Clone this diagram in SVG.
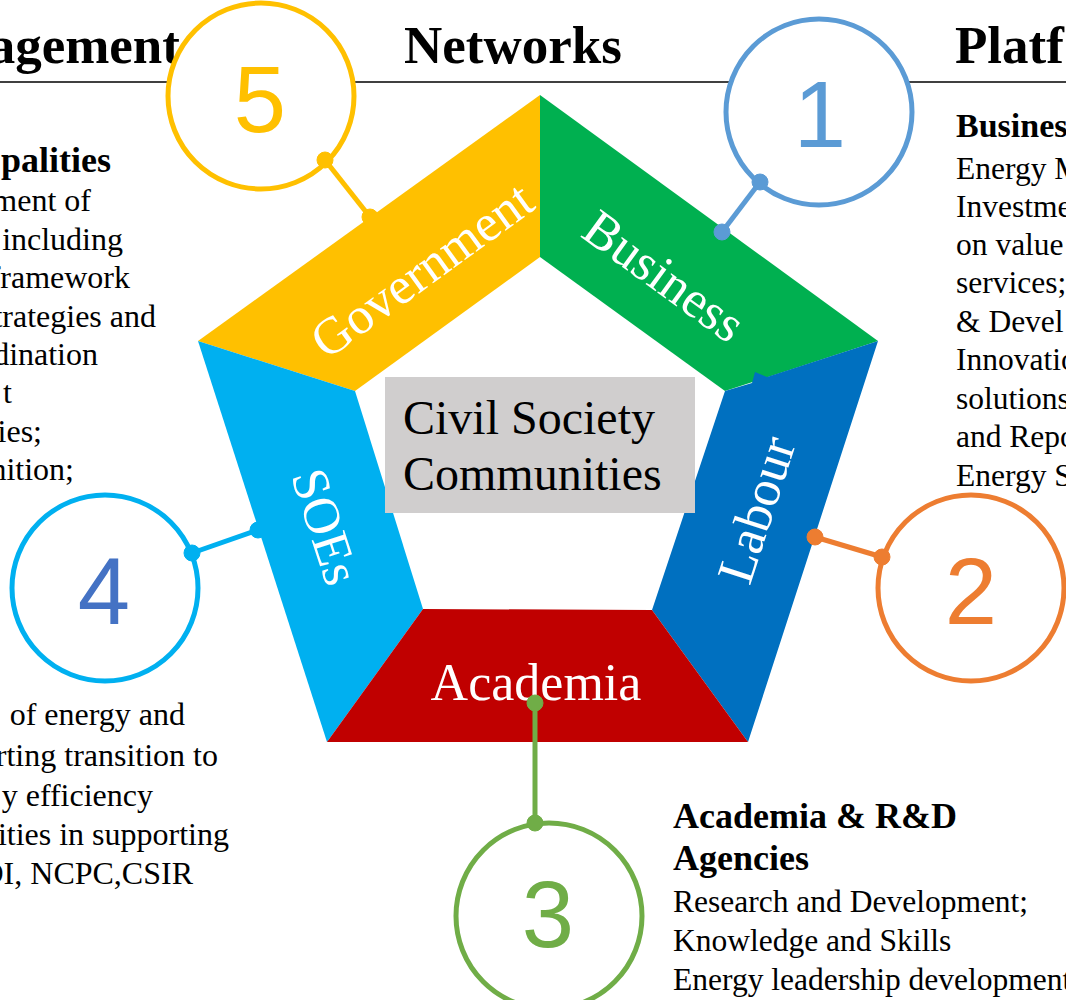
<svg xmlns="http://www.w3.org/2000/svg" width="1066" height="1000" viewBox="0 0 1066 1000">
<style>
.hd{font-family:"Liberation Serif","Times New Roman",serif;font-weight:bold;font-size:53px;fill:#000}
.bt{font-family:"Liberation Serif","Times New Roman",serif;font-weight:bold;font-size:34px;fill:#000}
.btl{font-family:"Liberation Serif","Times New Roman",serif;font-weight:bold;font-size:36px;fill:#000}
.bt2{font-family:"Liberation Serif","Times New Roman",serif;font-weight:bold;font-size:36px;fill:#000}
.tx{font-family:"Liberation Serif","Times New Roman",serif;font-size:32px;fill:#000}
.tx2{font-family:"Liberation Serif","Times New Roman",serif;font-size:31.5px;fill:#000}
.tx3{font-family:"Liberation Serif","Times New Roman",serif;font-size:32px;fill:#000}
.lbl{font-family:"Liberation Serif","Times New Roman",serif;font-size:52px;fill:#fff;text-anchor:middle}
.ctr{font-family:"Liberation Serif","Times New Roman",serif;font-size:48px;fill:#000}
.ring{fill:#fff;stroke-width:5}
.num{font-family:"Liberation Sans",Arial,sans-serif;font-size:94px;text-anchor:middle}
.cn{stroke-width:5;fill:none}
</style>
<rect width="1066" height="1000" fill="#fff"/>

<g id="header">
<line x1="0" y1="82" x2="1066" y2="82" stroke="#000" stroke-width="1.5"/>
<text class="hd" x="180" y="63" text-anchor="end">agement</text>
<text class="hd" x="513" y="63" text-anchor="middle">Networks</text>
<text class="hd" x="955" y="63">Platf</text>
</g>

<g id="text-left-top" text-anchor="end">
<text class="btl" x="111" y="172">palities</text>
<text class="tx" x="91" y="211">ment of</text>
<text class="tx" x="123" y="250">including</text>
<text class="tx" x="130" y="288">framework</text>
<text class="tx" x="156" y="327">trategies and</text>
<text class="tx" x="98" y="365">dination</text>
<text class="tx" x="12" y="403">t</text>
<text class="tx" x="42" y="442">ies;</text>
<text class="tx" x="74" y="480">nition;</text>
</g>

<g id="text-right-top">
<text class="bt" x="956" y="137">Busines</text>
<text class="tx2" x="956" y="179">Energy M</text>
<text class="tx2" x="956" y="217">Investme</text>
<text class="tx2" x="956" y="255">on value</text>
<text class="tx2" x="956" y="293">services;</text>
<text class="tx2" x="956" y="332">&amp; Devel</text>
<text class="tx2" x="956" y="370">Innovatio</text>
<text class="tx2" x="956" y="409">solutions</text>
<text class="tx2" x="956" y="447">and Repo</text>
<text class="tx2" x="956" y="486">Energy S</text>
</g>

<g id="text-left-bottom" text-anchor="end">
<text class="tx3" x="185" y="725">of energy and</text>
<text class="tx3" x="218" y="766">rting transition to</text>
<text class="tx3" x="153" y="806">y efficiency</text>
<text class="tx3" x="229" y="845">ities in supporting</text>
<text class="tx3" x="193" y="884">DI, NCPC,CSIR</text>
</g>

<g id="text-right-bottom">
<text class="bt2" x="673" y="828">Academia &amp; R&amp;D</text>
<text class="bt2" x="673" y="870">Agencies</text>
<text class="tx2" x="673" y="912">Research and Development;</text>
<text class="tx2" x="673" y="951">Knowledge and Skills</text>
<text class="tx2" x="673" y="990">Energy leadership development</text>
</g>

<g id="circle-5"><circle class="ring" cx="261" cy="96" r="93" stroke="#FFC000"/><text class="num" x="260" y="132" fill="#FFC000">5</text></g>
<g id="circle-1"><circle class="ring" cx="819" cy="112" r="93" stroke="#5B9BD5"/><text class="num" x="820" y="147" fill="#5B9BD5">1</text></g>
<g id="circle-2"><circle class="ring" cx="971" cy="588" r="93" stroke="#ED7D31"/><text class="num" x="971" y="624" fill="#ED7D31">2</text></g>
<g id="circle-3"><circle class="ring" cx="549" cy="916" r="93" stroke="#70AD47"/><text class="num" x="548" y="947" fill="#70AD47">3</text></g>
<g id="circle-4"><circle class="ring" cx="105" cy="588" r="93" stroke="#00B0F0"/><text class="num" x="104" y="624" fill="#4472C4">4</text></g>

<g id="connectors-under">
<g stroke="#FFC000" fill="#FFC000"><line class="cn" x1="325" y1="160" x2="370" y2="217"/><circle cx="325" cy="160" r="8"/><circle cx="370" cy="217" r="8"/></g>
<g stroke="#00B0F0" fill="#00B0F0"><line class="cn" x1="192" y1="553" x2="258" y2="530"/><circle cx="192" cy="553" r="8"/><circle cx="258" cy="530" r="8"/></g>
</g>

<g id="node-government">
<polygon points="540,95 540,257 355,391 198,341" fill="#FFC000"/>
<text class="lbl" transform="translate(432,284) rotate(-36)">Government</text>
</g>
<g id="node-business">
<polygon points="540,95 878,341 725,391 540,257" fill="#00B050"/>
<text class="lbl" transform="translate(654,290) rotate(36)">Business</text>
</g>
<g id="node-labour">
<polygon points="878,341 748,742 652,610 725,391 752,383 755,372 767,377" fill="#0070C0"/>
<text class="lbl" transform="translate(773,515) rotate(-72)">Labour</text>
</g>
<g id="node-soes">
<polygon points="198,341 355,391 423,609 327,742" fill="#00B0F0"/>
<text class="lbl" transform="translate(309,532) rotate(72)">SOEs</text>
</g>
<g id="node-academia">
<polygon points="327,742 423,609 652,610 748,742" fill="#C00000"/>
<text class="lbl" x="536" y="700">Academia</text>
</g>
<g id="node-civil-society">
<rect x="385" y="377" width="310" height="136" fill="#D0CECE"/>
<text class="ctr" x="403" y="434">Civil Society</text>
<text class="ctr" x="403" y="490">Communities</text>
</g>

<g id="connectors">
<g stroke="#5B9BD5" fill="#5B9BD5"><line class="cn" x1="760" y1="182" x2="722" y2="232"/><circle cx="760" cy="182" r="8"/><circle cx="722" cy="232" r="8"/></g>
<g stroke="#ED7D31" fill="#ED7D31"><line class="cn" x1="815" y1="537" x2="882" y2="557"/><circle cx="815" cy="537" r="8"/><circle cx="882" cy="557" r="8"/></g>
<g stroke="#70AD47" fill="#70AD47"><line class="cn" x1="535" y1="703" x2="535" y2="823"/><circle cx="535" cy="703" r="8"/><circle cx="535" cy="823" r="8"/></g>
</g>
</svg>
